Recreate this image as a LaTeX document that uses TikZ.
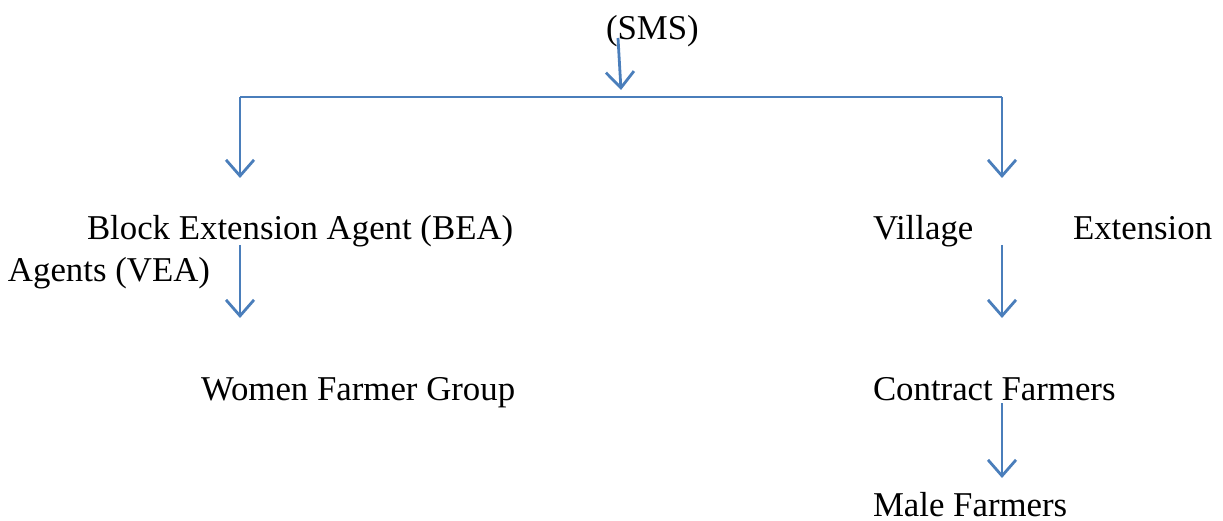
\documentclass[tikz,border=0pt]{standalone}
\usepackage{fontspec}
\setmainfont{Liberation Serif}
\usetikzlibrary{arrows.meta}
\definecolor{lineblue}{HTML}{4A7EBB}
\tikzset{
  txt/.style={anchor=base west, inner sep=0pt, outer sep=0pt, font=\fontsize{34.8}{40}\selectfont},
  conn/.style={draw=lineblue, line width=2.8pt},
  arr/.style={conn, -{Straight Barb[length=16pt,width=28pt,line width=2.8pt]}}
}
\begin{document}
\begin{tikzpicture}[x=1pt,y=-1pt]
\useasboundingbox (0,0) rectangle (1223,521);
% texts
\node[txt] (sms) at (606,40) {(SMS)};
\node[txt] (bea) at (87,240) {Block Extension Agent (BEA)};
\node[txt] (village) at (873,240) {Village};
\node[txt] (extension) at (1073,240) {Extension};
\node[txt] (agents) at (8,282) {Agents (VEA)};
\node[txt] (women) at (201,400) {Women Farmer Group};
\node[txt] (contract) at (873,400) {Contract Farmers};
\node[txt] (male) at (873,516) {Male Farmers};
% coordinates
\coordinate (smsA) at (618,38);
\coordinate (smsB) at (621,90);
\coordinate (hl) at (240,97);
\coordinate (hr) at (1002,97);
\coordinate (lEnd) at (240,178);
\coordinate (rEnd) at (1002,178);
\coordinate (beaA) at (240,245);
\coordinate (beaB) at (240,318);
\coordinate (veaA) at (1002,245);
\coordinate (veaB) at (1002,318);
\coordinate (conA) at (1002,403);
\coordinate (conB) at (1002,478);
% connectors
\draw[arr] (smsA) -- (smsB);
\draw[conn] (hl) -- (hr);
\draw[arr] (hl) -- (lEnd);
\draw[arr] (hr) -- (rEnd);
\draw[arr] (beaA) -- (beaB);
\draw[arr] (veaA) -- (veaB);
\draw[arr] (conA) -- (conB);
\end{tikzpicture}
\end{document}
